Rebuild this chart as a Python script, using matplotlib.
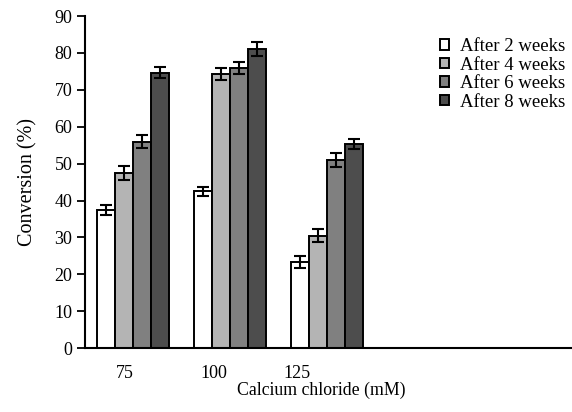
import numpy as np
import matplotlib.pyplot as plt

plt.rcParams['font.family'] = ['Liberation Serif', 'DejaVu Serif']

concentrations = ['75', '100', '125']
series_names = ['After 2 weeks', 'After 4 weeks', 'After 6 weeks', 'After 8 weeks']
week2 = [37.5, 42.5, 23.3]
week4 = [47.5, 74.3, 30.5]
week6 = [56.0, 76.0, 51.0]
week8 = [74.7, 81.0, 55.3]
err2 = [1.3, 1.3, 1.6]
err4 = [1.8, 1.6, 1.7]
err6 = [1.8, 1.6, 1.8]
err8 = [1.4, 1.9, 1.3]

colors = ['white', '#b4b4b4', '#808080', '#4d4d4d']

fig = plt.figure(figsize=(5.72, 4.12), dpi=100)
ax = fig.add_axes([0.1486, 0.155, 0.8514, 0.806])

x = np.arange(len(concentrations))
w = 0.185
values = [week2, week4, week6, week8]
errors = [err2, err4, err6, err8]
for i, (vals, errs) in enumerate(zip(values, errors)):
    ax.bar(x + (i - 1.5) * w, vals, w, color=colors[i], edgecolor='black',
           linewidth=1.4, label=series_names[i],
           yerr=errs, error_kw=dict(ecolor='black', elinewidth=1.5, capsize=4, capthick=1.5))

ax.set_xlim(-0.495, 4.53)
ax.set_ylim(0, 90)
ax.set_yticks(range(0, 91, 10))
ax.set_xticks(x + np.array([-0.08, -0.17, -0.31]))
ax.set_xticklabels(concentrations)
ax.tick_params(axis='x', length=0, pad=12, labelsize=13)
ax.tick_params(axis='y', length=6, width=1.3, labelsize=13, pad=3)
for s in ['top', 'right']:
    ax.spines[s].set_visible(False)
ax.spines['left'].set_linewidth(1.5)
ax.spines['bottom'].set_linewidth(1.5)

ax.set_xlabel('Calcium chloride (mM)', fontsize=12.8, labelpad=0)
ax.xaxis.label.set_x(0.486)
ax.set_ylabel('Conversion (%)', fontsize=14.5, labelpad=12)

fig.legend(loc='upper left', bbox_to_anchor=(0.752, 0.93), frameon=False, fontsize=13.5,
           borderpad=0, handlelength=0.5, handleheight=0.5, handletextpad=0.6,
           labelspacing=0.08)

fig.savefig('out.png', dpi=100)
